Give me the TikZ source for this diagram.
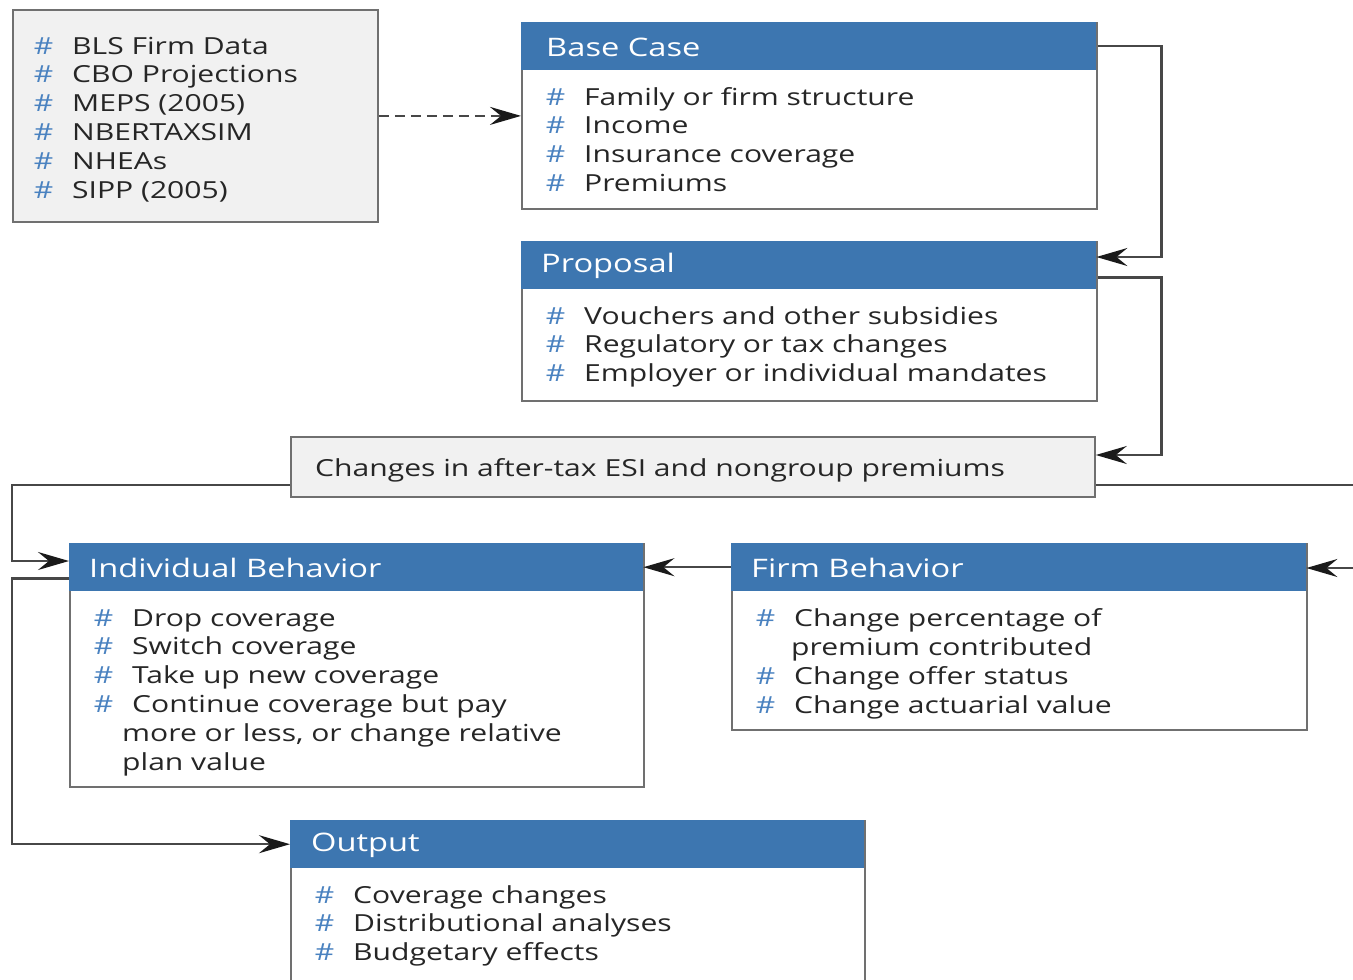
\documentclass[tikz,border=0pt]{standalone}
\usepackage{fontspec}
\setmainfont{Open Sans}[FakeStretch=1.28]
\usetikzlibrary{arrows.meta}
\definecolor{hblue}{HTML}{3D76B0}
\definecolor{hashblue}{HTML}{4A82C0}
\definecolor{bordergray}{HTML}{707070}
\definecolor{lightfill}{HTML}{F1F1F1}
\definecolor{linegray}{HTML}{474747}
\definecolor{tipblack}{HTML}{1A1A1A}
\definecolor{txtgray}{HTML}{262626}
\newcommand\hashmark{\llap{\textcolor{hashblue}{\#}\hspace{19pt}}}
\tikzset{
  box/.style={draw=bordergray, line width=1.8pt, fill=white, anchor=north west, inner sep=0pt},
  graybox/.style={box, fill=lightfill},
  hdr/.style={fill=hblue, draw=none, anchor=north west, inner sep=0pt, minimum height=48pt},
  htext/.style={text=white, anchor=west, inner sep=0pt, font=\fontsize{25.5}{30}\selectfont},
  item/.style={anchor=base west, inner sep=0pt, text=txtgray, font=\fontsize{23.5}{28}\selectfont},
  tip/.style={-{Stealth[length=31pt, width=18pt, inset=11pt, color=tipblack, fill=tipblack]}},
  conn/.style={draw=linegray, line width=2.4pt, tip},
  plain/.style={draw=linegray, line width=2.4pt},
}
\begin{document}
\begin{tikzpicture}[x=1pt,y=-1pt]
\useasboundingbox (0,0) rectangle (1353,980);
\fill[white] (0,0) rectangle (1353,980);

% Sources
\node[graybox, minimum width=365pt, minimum height=212pt] (src) at (12,9) {};
\foreach \t [count=\i] in {BLS Firm Data, CBO Projections, MEPS (2005), NBERTAXSIM, NHEAs, SIPP (2005)}
  \node[item] (src-\i) at (72, {54+28.8*(\i-1)}) {\hashmark\t};

% Base Case
\node[box, minimum width=575pt, minimum height=186pt] (base) at (521,22) {};
\node[hdr, minimum width=575pt] (base-h) at (521,22) {};
\node[htext] (base-t) at (546,47) {Base Case};
\foreach \t [count=\i] in {Family or firm structure, Income, Insurance coverage, Premiums}
  \node[item] (base-\i) at (584, {105+28.8*(\i-1)}) {\hashmark\t};

% Proposal
\node[box, minimum width=575pt, minimum height=159pt] (prop) at (521,241) {};
\node[hdr, minimum width=575pt] (prop-h) at (521,241) {};
\node[htext] (prop-t) at (541,266) {Proposal};
\foreach \t [count=\i] in {Vouchers and other subsidies, Regulatory or tax changes, Employer or individual mandates}
  \node[item] (prop-\i) at (584, {324+28.8*(\i-1)}) {\hashmark\t};

% Changes
\node[graybox, minimum width=804pt, minimum height=60pt] (chg) at (290,436) {};
\node[item] (chg-t) at (315,476) {Changes in after-tax ESI and nongroup premiums};

% Individual Behavior
\node[box, minimum width=574pt, minimum height=243pt] (ind) at (69,543) {};
\node[hdr, minimum width=574pt] (ind-h) at (69,543) {};
\node[htext] (ind-t) at (89,568) {Individual Behavior};
\foreach \t [count=\i] in {Drop coverage, Switch coverage, Take up new coverage, Continue coverage but pay}
  \node[item] (ind-\i) at (132, {626+28.8*(\i-1)}) {\hashmark\t};
\node[item] (ind-5) at (122,741) {{more or less, or change relative}};
\node[item] (ind-6) at (122,770) {plan value};

% Firm Behavior
\node[box, minimum width=575pt, minimum height=186pt] (firm) at (731,543) {};
\node[hdr, minimum width=575pt] (firm-h) at (731,543) {};
\node[htext] (firm-t) at (751,568) {Firm Behavior};
\node[item] (firm-1) at (794,626) {\hashmark Change percentage of};
\node[item] (firm-2) at (791,655) {premium contributed};
\node[item] (firm-3) at (794,684) {\hashmark Change offer status};
\node[item] (firm-4) at (794,713) {\hashmark Change actuarial value};

% Output
\node[box, minimum width=574pt, minimum height=200pt] (out) at (290,820) {};
\node[hdr, minimum width=574pt] (out-h) at (290,820) {};
\node[htext] (out-t) at (311,845) {Output};
\foreach \t [count=\i] in {Coverage changes, Distributional analyses, Budgetary effects}
  \node[item] (out-\i) at (353, {903+28.8*(\i-1)}) {\hashmark\t};

% Connectors
\draw[plain, dash pattern=on 10pt off 6pt, tip] (src.east) -- (src.east -| base.west);
\draw[conn] ([yshift=-24pt]base-h.north east) ++(2,0) -- ++(63,0) |- ([yshift=-16pt]prop-h.north east);
\draw[conn] ([yshift=12pt]prop-h.south east) ++(2,0) -- ++(63,0) |- ([yshift=-19pt]chg.north east);
\coordinate (offR1) at (1353,483);
\coordinate (offR2) at (1353,568);
\draw[plain] ([yshift=13pt]chg.south east) -- ([yshift=13pt]chg.south east -| offR1);
\draw[conn] (offR2) -- (offR2 -| firm-h.east);
\draw[conn] ([yshift=13pt]chg.south west) -- ++(-278,0) |- ([yshift=-18pt]ind-h.north west);
\draw[conn] (firm-h.west) -- (ind-h.east);
\draw[conn] ([yshift=13pt]ind-h.south west) -- ++(-57,0) |- (out-h.west);
\end{tikzpicture}
\end{document}
